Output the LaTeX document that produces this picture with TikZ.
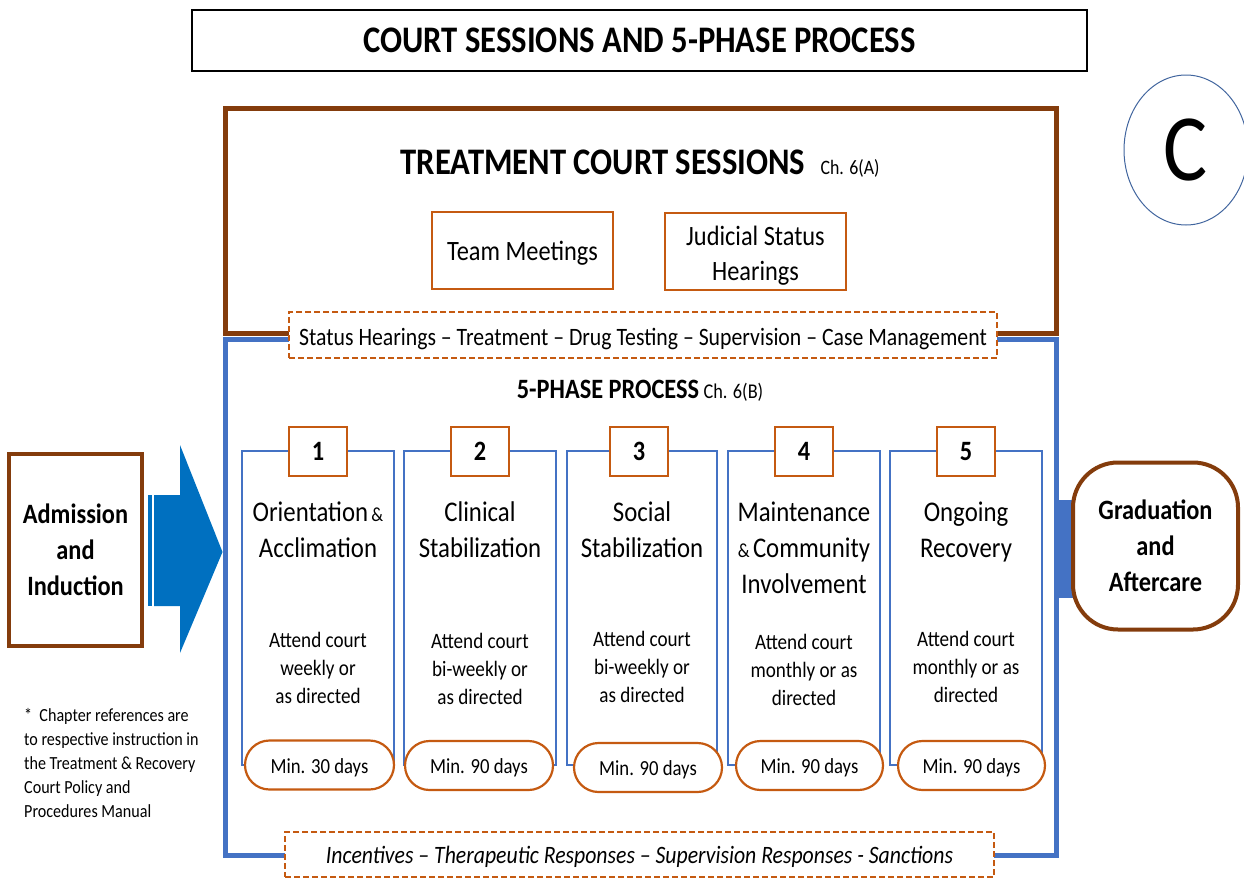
\documentclass[tikz,border=0pt]{standalone}
\usepackage{fontspec}
\setmainfont{Carlito}[FakeStretch=0.87]
\usetikzlibrary{shapes.geometric}
\definecolor{brn}{HTML}{843C0C}
\definecolor{org}{HTML}{C55A11}
\definecolor{bl}{HTML}{4472C4}
\definecolor{arr}{HTML}{0070C0}
\definecolor{eb}{HTML}{41659E}
\newcommand{\fsz}[2]{\fontsize{#1}{#2}\selectfont}
\tikzset{
  obox/.style={draw=org, line width=2.2, fill=white, inner sep=2},
  dbox/.style={draw=org, line width=2.5, fill=white, dash pattern=on 6 off 3},
  col/.style={draw=bl, line width=1.5, minimum width=152, minimum height=314, inner sep=0},
  numbox/.style={obox, minimum width=58, minimum height=49, font=\bfseries\fsz{28}{30}},
  pill/.style={obox, rounded corners=24.5, minimum width=148, minimum height=49, font=\fsz{21.5}{24}, text height=18.5, text depth=2},
  ptitle/.style={align=center, font=\fsz{28.5}{36}, inner sep=0},
  pattend/.style={align=center, font=\fsz{22}{28}, inner sep=0},
  bigbox/.style={line width=4, fill=white, align=center, font=\bfseries\fsz{28}{36}, inner sep=0},
}
\begin{document}
\begin{tikzpicture}[x=1pt,y=-1pt]
\useasboundingbox (0,0) rectangle (1244,878);
% title
\node[draw=black, line width=2.5, minimum width=895, minimum height=61, inner sep=0, font=\bfseries\fsz{37.5}{40}] (title) at (639.5,40.5) {COURT SESSIONS AND 5-PHASE PROCESS};
% C
\node[ellipse, draw=eb, line width=1, minimum width=124, minimum height=150, inner sep=0, font=\fsz{95}{95}] (c) at (1186,150) {C};
% court sessions box
\node[draw=brn, line width=5, minimum width=831, minimum height=225, inner sep=0] (court) at (640.5,220.5) {};
\node[font=\bfseries\fsz{37.5}{40}, inner sep=0] (tcs) at (603,162) {TREATMENT COURT SESSIONS};
\node[anchor=base west, font=\fsz{20.5}{22}, inner sep=0] (cha) at ([xshift=15]tcs.base east) {Ch. 6(A)};
\node[obox, minimum width=181, minimum height=77, font=\fsz{28}{35}, text height=22, text depth=2] (team) at (522.5,250.5) {Team Meetings};
\node[obox, minimum width=181, minimum height=77] (jsh) at (755.5,251.5) {};
\node[align=center, font=\fsz{28}{35}, inner sep=0] (jsht) at (755.5,256) {Judicial Status\\Hearings};
% phase box
\node[draw=bl, line width=5, minimum width=831, minimum height=516, inner sep=0] (phases) at (640.5,597) {};
\node[dbox, minimum width=708, minimum height=46, font=\fsz{25}{26}, text height=22, text depth=2] (status) at (643,335) {Status Hearings -- Treatment -- Drug Testing -- Supervision -- Case Management};
\node[font=\bfseries\fsz{28}{30}, inner sep=0] (fpp) at (608,389) {5-PHASE PROCESS};
\node[anchor=base west, font=\fsz{21}{22}, inner sep=0] (chb) at ([xshift=4]fpp.base east) {Ch. 6(B)};
% columns
\node[col] (c1) at (318,608) {};
\node[col] (c2) at (480,608) {};
\node[col, minimum width=150] (c3) at (642,608) {};
\node[col] (c4) at (804,608) {};
\node[col] (c5) at (966,608) {};
\node[numbox] (n1) at (318,451.5) {1};
\node[numbox] (n2) at (480,451.5) {2};
\node[numbox] (n3) at (639,451.5) {3};
\node[numbox] (n4) at (804,451.5) {4};
\node[numbox] (n5) at (966,451.5) {5};
\node[ptitle] (t1) at (318,530) {Orientation{\fsz{20}{20}\,\&}\\Acclimation};
\node[ptitle] (t2) at (480,530) {Clinical\\Stabilization};
\node[ptitle] (t3) at (642,530) {Social\\Stabilization};
\node[ptitle] (t4) at (804,548) {Maintenance\\{\fsz{20}{20}\&\,}Community\\Involvement};
\node[ptitle] (t5) at (966,532) {Ongoing\\Recovery};
\node[pattend] (a1) at (318,668) {Attend court\\weekly or\\as directed};
\node[pattend] (a2) at (480,669) {Attend court\\bi-weekly or\\as directed};
\node[pattend] (a3) at (642,667) {Attend court\\bi-weekly or\\as directed};
\node[pattend] (a4) at (804,670) {Attend court\\monthly or as\\directed};
\node[pattend] (a5) at (966,667) {Attend court\\monthly or as\\directed};
\node[pill, minimum width=149] (p1) at (319.5,765) {Min. 30 days};
\node[pill] (p2) at (479,765.5) {Min. 90 days};
\node[pill] (p3) at (648,767.5) {Min. 90 days};
\node[pill, minimum width=147] (p4) at (809.5,765.5) {Min. 90 days};
\node[pill, minimum width=147] (p5) at (971.5,765.5) {Min. 90 days};
\node[dbox, minimum width=709, minimum height=45, font=\itshape\fsz{25}{26}, text height=19, text depth=2] (resp) at (639.5,854.5) {Incentives -- Therapeutic Responses -- Supervision Responses - Sanctions};
% admission
\node[bigbox, draw=brn, minimum width=133, minimum height=192] (adm) at (75.5,550) {Admission\\and\\Induction};
\fill[arr] ([xshift=4]adm.east |- 0,495) rectangle (152,606);
\fill[arr] (154,495) -- (180,495) -- (180,445) -- (phases.west |- 0,552) -- (180,653) -- (180,606) -- (154,606) -- cycle;
% graduation
\fill[bl] (phases.east |- 0,500) rectangle (1075,598);
\node[bigbox, draw=brn, rounded corners=45, minimum width=165, minimum height=167] (grad) at (1155.5,546) {Graduation\\and\\Aftercare};
% footnote
\node[anchor=north west, align=left, font=\fsz{18.5}{24}, inner sep=0] (note) at (24,708) {*\ \ Chapter references are\\to respective instruction in\\the Treatment \& Recovery\\Court Policy and\\Procedures Manual};
\end{tikzpicture}
\end{document}
